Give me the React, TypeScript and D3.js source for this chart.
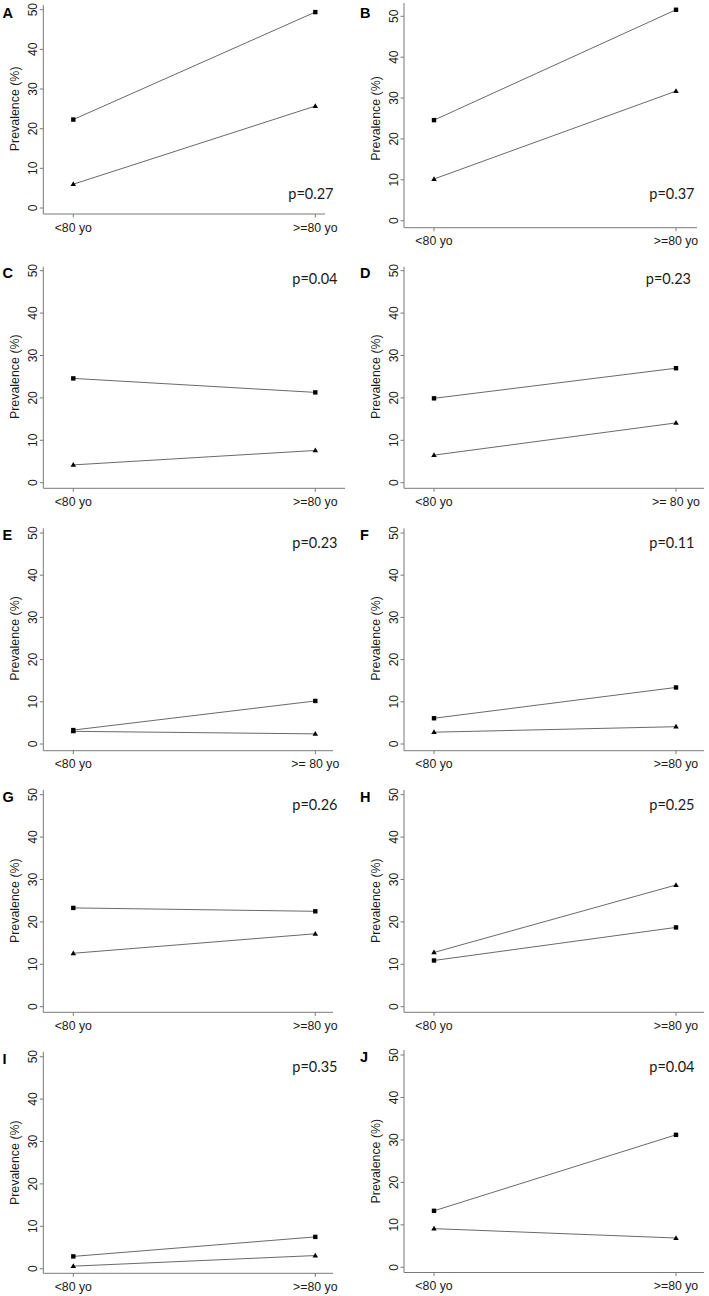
import React from "react";
import * as d3 from "d3";

// ---- data ----
const panelLabels = ["A", "B", "C", "D", "E", "F", "G", "H", "I", "J"];
const pTexts = ["p=0.27", "p=0.37", "p=0.04", "p=0.23", "p=0.23", "p=0.11", "p=0.26", "p=0.25", "p=0.35", "p=0.04"];
const groupLow = "<80 yo";
const groupHigh = ["\u003e=80 yo", ">=80 yo", ">=80 yo", ">= 80 yo", ">= 80 yo", ">=80 yo", ">=80 yo", ">=80 yo", ">=80 yo", ">=80 yo"];
const squareLow = [22.3, 24.6, 24.6, 19.9, 3.3, 6.1, 23.3, 10.9, 2.9, 13.3];
const squareHigh = [49.4, 51.6, 21.3, 27.0, 10.2, 13.4, 22.5, 18.7, 7.5, 31.2];
const triLow = [6.0, 10.2, 4.2, 6.5, 3.0, 2.8, 12.6, 12.8, 0.6, 9.1];
const triHigh = [25.7, 31.7, 7.6, 14.1, 2.4, 4.1, 17.2, 28.7, 3.1, 6.9];
const yTicks = [0, 10, 20, 30, 40, 50];
const yTitle = "Prevalence (%)";

// ---- layout (pixels) ----
const axisX = [43.3, 404, 43.3, 404, 43.3, 404, 43.3, 404, 43.3, 404];
const y50 = [9.7, 16.3, 270.7, 270.7, 533, 533, 794.7, 794.7, 1056.7, 1055];
const y0 = [208, 220.7, 482.7, 482.7, 744, 744, 1006.7, 1006.7, 1268.7, 1267.3];
const axisY = [214, 227.7, 488.3, 488.3, 750.7, 750.7, 1012.3, 1012.3, 1273.3, 1272.5];
const axisTop = [5, 3, 266.7, 266.7, 528.3, 528.3, 790, 790, 1051.7, 1050];
const axisRight = [325, 697, 345, 704, 333, 704, 333, 704, 333, 704];
const letterY = [18, 17.5, 277.5, 277.5, 540, 540, 802, 802, 1063.5, 1062];
const pX = [333.5, 694.5, 337.5, 691, 337.5, 694.5, 337.5, 694.5, 337.5, 694.5];
const pY = [199, 199.3, 284.3, 284.3, 547.7, 547.7, 810, 810, 1071.7, 1071.7];

const AXIS = "#7a7a7a";
const LINE = "#6a6a6a";
const TEXT = "#1a1a1a";

function Panel({ i }: { i: number }) {
  const ox = axisX[i];
  const y = d3.scaleLinear().domain([0, 50]).range([y0[i], y50[i]]);
  const x = d3.scalePoint<string>().domain(["low", "high"]).range([ox + 30, ox + 272]);
  const line = d3.line<[string, number]>().x((d) => x(d[0]) as number).y((d) => y(d[1]));
  const sq: [string, number][] = [["low", squareLow[i]], ["high", squareHigh[i]]];
  const tr: [string, number][] = [["low", triLow[i]], ["high", triHigh[i]]];
  const tri = d3.symbol().type(d3.symbolTriangle).size(13);
  const letterX = ox < 100 ? 2.5 : 360;
  return (
    <g>
      <text x={letterX} y={letterY[i]} fontFamily="Liberation Sans, Arial, sans-serif" fontWeight="bold" fontSize={14.5} fill="#000">
        {panelLabels[i]}
      </text>
      {/* axes */}
      <line x1={ox} x2={ox} y1={axisTop[i]} y2={axisY[i]} stroke={AXIS} strokeWidth={1} />
      <line x1={ox} x2={axisRight[i]} y1={axisY[i]} y2={axisY[i]} stroke={AXIS} strokeWidth={1} />
      {yTicks.map((t) => (
        <g key={t}>
          <line x1={ox - 3.5} x2={ox} y1={y(t)} y2={y(t)} stroke={AXIS} />
          <text
            transform={`translate(${ox - 6.5},${y(t)}) rotate(-90)`}
            textAnchor="middle"
            fontFamily="Liberation Sans, Arial, sans-serif"
            fontSize={12}
            fill={TEXT}
          >
            {t}
          </text>
        </g>
      ))}
      <text
        transform={`translate(${ox - 24},${(y0[i] + y50[i]) / 2}) rotate(-90)`}
        textAnchor="middle"
        fontFamily="Liberation Sans, Arial, sans-serif"
        fontSize={12.4}
        fill={TEXT}
      >
        {yTitle}
      </text>
      {(["low", "high"] as string[]).map((g) => (
        <g key={g}>
          <line x1={x(g)} x2={x(g)} y1={axisY[i]} y2={axisY[i] + 3.5} stroke={AXIS} />
          <text
            x={x(g)}
            y={axisY[i] + 17.5}
            textAnchor="middle"
            fontFamily="Liberation Sans, Arial, sans-serif"
            fontSize={12.3}
            fill={TEXT}
          >
            {g === "low" ? groupLow : groupHigh[i]}
          </text>
        </g>
      ))}
      {/* series */}
      <path d={line(sq) || ""} fill="none" stroke={LINE} strokeWidth={1} />
      <path d={line(tr) || ""} fill="none" stroke={LINE} strokeWidth={1} />
      {sq.map((d, k) => (
        <rect key={k} x={(x(d[0]) as number) - 2.2} y={y(d[1]) - 2.2} width={4.4} height={4.4} fill="#000" />
      ))}
      {tr.map((d, k) => (
        <path key={k} d={tri() || ""} transform={`translate(${x(d[0])},${y(d[1]) + 0.3})`} fill="#000" />
      ))}
      <text x={pX[i]} y={pY[i]} textAnchor="end" fontFamily="Lato, 'Open Sans', sans-serif" fontSize={14.5} fill={TEXT}>
        {pTexts[i]}
      </text>
    </g>
  );
}

export default function App() {
  return (
    <svg
      width={709}
      height={1296}
      style={{ position: "absolute", left: 0, top: 0, background: "#fff" }}
    >
      <rect width={709} height={1296} fill="#fff" />
      {panelLabels.map((_, i) => (
        <Panel key={i} i={i} />
      ))}
    </svg>
  );
}
